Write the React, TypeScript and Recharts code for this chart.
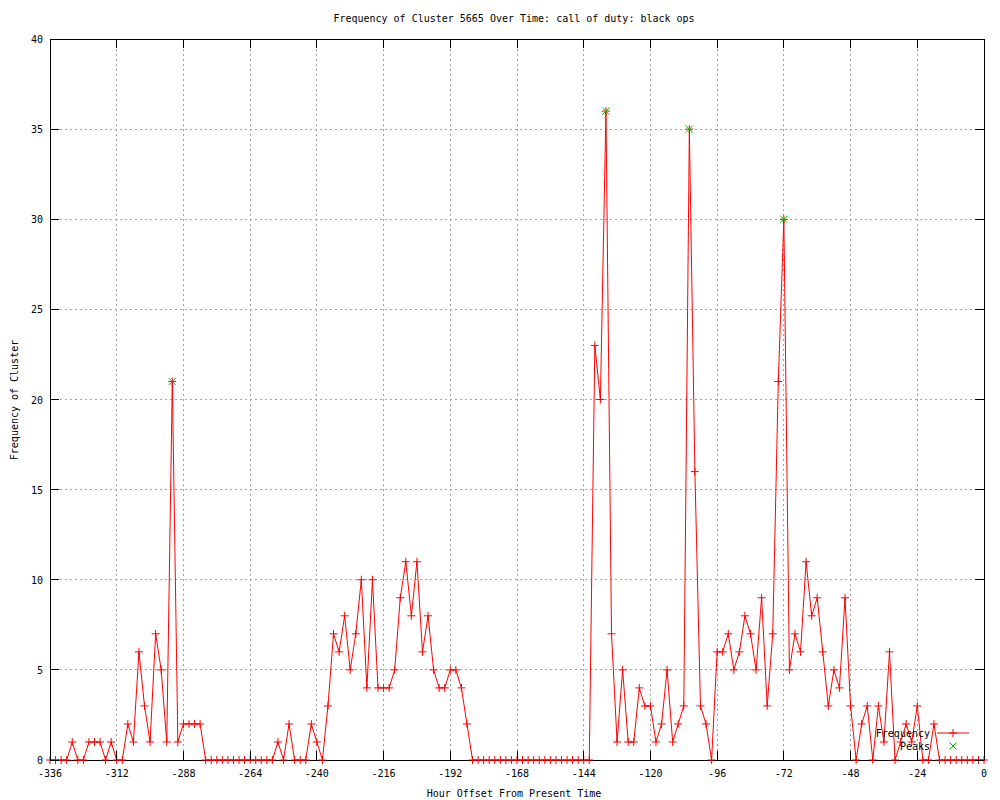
import { LineChart, Line, XAxis, YAxis, CartesianGrid, ReferenceArea } from "recharts";

// frequency per 2-hour bucket, from -336h up to 0h
const FREQUENCY = [
  0, 0, 0, 0, 1, 0, 0, 1, 1, 1,
  0, 1, 0, 0, 2, 1, 6, 3, 1, 7,
  5, 1, 21, 1, 2, 2, 2, 2, 0, 0,
  0, 0, 0, 0, 0, 0, 0, 0, 0, 0,
  0, 1, 0, 2, 0, 0, 0, 2, 1, 0,
  3, 7, 6, 8, 5, 7, 10, 4, 10, 4,
  4, 4, 5, 9, 11, 8, 11, 6, 8, 5,
  4, 4, 5, 5, 4, 2, 0, 0, 0, 0,
  0, 0, 0, 0, 0, 0, 0, 0, 0, 0,
  0, 0, 0, 0, 0, 0, 0, 0, 23, 20,
  36, 7, 1, 5, 1, 1, 4, 3, 3, 1,
  2, 5, 1, 2, 3, 35, 16, 3, 2, 0,
  6, 6, 7, 5, 6, 8, 7, 5, 9, 3,
  7, 21, 30, 5, 7, 6, 11, 8, 9, 6,
  3, 5, 4, 9, 3, 0, 2, 3, 0, 3,
  1, 6, 0, 1, 2, 1, 3, 0, 0, 2,
  0, 0, 0, 0, 0, 0, 0, 0, 0,
];
const START_HOUR = -336;
const STEP_HOURS = 2;
const HOURS = FREQUENCY.map((_, i) => START_HOUR + STEP_HOURS * i);

const PEAK_HOURS = [-292, -136, -106, -72];
const PEAK_VALUES = [21, 36, 35, 30];

const X_TICKS = [-336, -312, -288, -264, -240, -216, -192, -168, -144, -120, -96, -72, -48, -24, 0];
const Y_TICKS = [0, 5, 10, 15, 20, 25, 30, 35, 40];

const freqData = HOURS.map((hour, i) => ({ hour, freq: FREQUENCY[i] }));
const peakData = PEAK_HOURS.map((hour, i) => ({ hour, value: PEAK_VALUES[i] }));

const PLOT_TOP = 39;
const PLOT_BOTTOM = 760;
const PLOT_LEFT = 50;
const PLOT_RIGHT = 984;
const FONT = { fontFamily: "'DejaVu Sans Mono', monospace", fontSize: 10, fill: "#000" };

function XTick({ x, payload }: any) {
  return (
    <g>
      <line x1={x} x2={x} y1={PLOT_BOTTOM} y2={PLOT_BOTTOM - 9} stroke="#000" shapeRendering="crispEdges" />
      <line x1={x} x2={x} y1={PLOT_TOP} y2={PLOT_TOP + 9} stroke="#000" shapeRendering="crispEdges" />
      <text x={x} y={777} textAnchor="middle" style={FONT}>{payload.value}</text>
    </g>
  );
}

function YTick({ y, payload }: any) {
  return (
    <g>
      <line x1={PLOT_LEFT} x2={PLOT_LEFT + 9} y1={y} y2={y} stroke="#000" shapeRendering="crispEdges" />
      <line x1={PLOT_RIGHT} x2={PLOT_RIGHT - 9} y1={y} y2={y} stroke="#000" shapeRendering="crispEdges" />
      <text x={43} y={y + 4} textAnchor="end" style={FONT}>{payload.value}</text>
    </g>
  );
}

const plusDot = (props: any) => {
  const { cx, cy, index } = props;
  return (
    <path
      key={`f${index}`}
      d={`M${cx - 4},${cy}H${cx + 4}M${cx},${cy - 4}V${cy + 4}`}
      stroke="#ff0000"
      fill="none"
    />
  );
};

const crossDot = (props: any) => {
  const { cx, cy, index } = props;
  return (
    <path
      key={`p${index}`}
      d={`M${cx - 3.5},${cy - 3.5}L${cx + 3.5},${cy + 3.5}M${cx - 3.5},${cy + 3.5}L${cx + 3.5},${cy - 3.5}`}
      stroke="#00c000"
      fill="none"
    />
  );
};

export default function App() {
  return (
    <div style={{ position: "absolute", left: 0, top: 0, width: 1000, height: 800, background: "#fff" }}>
      <LineChart width={1000} height={800} margin={{ top: PLOT_TOP, right: 16, bottom: 0, left: 0 }}>
        <CartesianGrid stroke="#a0a0a0" strokeDasharray="2 3" shapeRendering="crispEdges" />
        <XAxis
          dataKey="hour"
          type="number"
          domain={[-336, 0]}
          ticks={X_TICKS}
          height={40}
          axisLine={false}
          tickLine={false}
          tick={<XTick />}
        />
        <YAxis
          type="number"
          domain={[0, 40]}
          ticks={Y_TICKS}
          width={50}
          axisLine={false}
          tickLine={false}
          tick={<YTick />}
        />
        <Line
          data={freqData}
          dataKey="freq"
          type="linear"
          stroke="#ff0000"
          strokeWidth={1}
          dot={plusDot}
          activeDot={false}
          isAnimationActive={false}
        />
        <Line
          data={peakData}
          dataKey="value"
          type="linear"
          stroke="none"
          dot={crossDot}
          activeDot={false}
          isAnimationActive={false}
        />
        <ReferenceArea
          x1={-336}
          x2={0}
          y1={0}
          y2={40}
          stroke="#000"
          strokeWidth={1}
          fill="none"
          shapeRendering="crispEdges"
        />
      </LineChart>

      <svg width={1000} height={800} style={{ position: "absolute", left: 0, top: 0, pointerEvents: "none" }}>
        <text x={514} y={22} textAnchor="middle" style={FONT}>
          Frequency of Cluster 5665 Over Time: call of duty: black ops
        </text>
        <text x={514} y={797} textAnchor="middle" style={FONT}>
          Hour Offset From Present Time
        </text>
        <text x={18} y={400} textAnchor="middle" transform="rotate(-90, 18, 400)" style={FONT}>
          Frequency of Cluster
        </text>
        {/* legend, bottom right inside the plot */}
        <text x={930} y={737} textAnchor="end" style={FONT}>Frequency</text>
        <line x1={937} x2={969} y1={733} y2={733} stroke="#ff0000" />
        <path d="M949,733H957M953,729V737" stroke="#ff0000" fill="none" />
        <text x={930} y={750} textAnchor="end" style={FONT}>Peaks</text>
        <path d="M949.5,742.5L956.5,749.5M949.5,749.5L956.5,742.5" stroke="#00c000" fill="none" />
      </svg>
    </div>
  );
}
